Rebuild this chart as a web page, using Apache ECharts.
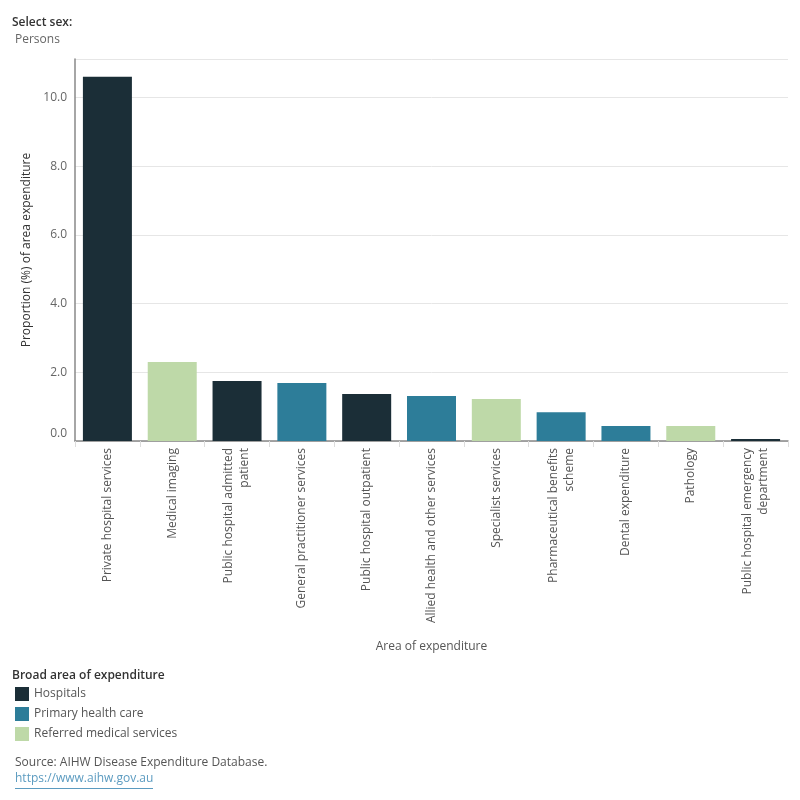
<!DOCTYPE html>
<html>
<head>
<meta charset="utf-8">
<script src="https://cdn.jsdelivr.net/npm/echarts@6/dist/echarts.min.js"></script>
<style>
  html, body { margin: 0; padding: 0; background: #fff; }
  #main { width: 800px; height: 800px; }
</style>
</head>
<body>
<div id="main"></div>
<script>
// categories, values and broad area for each bar
var categories = [
    'Private hospital services',
    'Medical imaging',
    'Public hospital admitted\npatient',
    'General practitioner services',
    'Public hospital outpatient',
    'Allied health and other services',
    'Specialist services',
    'Pharmaceutical benefits\nscheme',
    'Dental expenditure',
    'Pathology',
    'Public hospital emergency\ndepartment'
];
var values = [10.6, 2.3, 1.75, 1.69, 1.37, 1.31, 1.22, 0.84, 0.44, 0.44, 0.06];
var groups = [
    'Hospitals', 'Referred medical services', 'Hospitals', 'Primary health care',
    'Hospitals', 'Primary health care', 'Referred medical services',
    'Primary health care', 'Primary health care', 'Referred medical services', 'Hospitals'
];
var groupNames = ['Hospitals', 'Primary health care', 'Referred medical services'];
var groupColors = ['#1b2e37', '#2d7d99', '#bed9a8'];

var font = '"Open Sans", "Noto Sans", sans-serif';

function buildSeries() {
    return groupNames.map(function (g, gi) {
        return {
            name: g,
            type: 'bar',
            barWidth: 49,
            barGap: '-100%',
            itemStyle: { color: groupColors[gi] },
            data: values.map(function (v, i) { return groups[i] === g ? v : '-'; })
        };
    });
}

var myChart = echarts.init(document.getElementById('main'));
var option = {
    animation: false,
    textStyle: { fontFamily: font },
    grid: { left: 75, right: 12, top: 59, bottom: 359, containLabel: false },
    graphic: [
        { type: 'text', left: 12, top: 17, style: { text: 'Select sex:', font: '600 12px ' + font, fill: '#333' } },
        { type: 'text', left: 15, top: 34, style: { text: 'Persons', font: '12px ' + font, fill: '#666' } },
        { type: 'text', left: 12, top: 670, style: { text: 'Broad area of expenditure', font: '600 12px ' + font, fill: '#333' } },
        { type: 'text', left: 15, top: 757, style: { text: 'Source: AIHW Disease Expenditure Database.', font: '12px ' + font, fill: '#555' } },
        { type: 'text', left: 15, top: 773, style: { text: 'https://www.aihw.gov.au', font: '12px ' + font, fill: '#5b9bc0' } },
        { type: 'rect', left: 15, top: 788, shape: { width: 138, height: 1 }, style: { fill: '#5b9bc0' } }
    ],
    legend: {
        orient: 'vertical',
        left: 15,
        top: 687,
        padding: 0,
        itemWidth: 14,
        itemHeight: 14,
        itemGap: 6,
        icon: 'rect',
        textStyle: { fontSize: 12, color: '#555', fontFamily: font },
        data: groupNames
    },
    xAxis: {
        type: 'category',
        data: categories,
        name: 'Area of expenditure',
        nameLocation: 'middle',
        nameGap: 200,
        nameTextStyle: { fontSize: 12, color: '#555' },
        axisLine: { lineStyle: { color: '#888', width: 1.5 } },
        axisTick: { show: true, length: 6, lineStyle: { color: '#ddd' } },
        axisLabel: {
            rotate: 90,
            interval: 0,
            margin: 7,
            fontSize: 12,
            color: '#555',
            lineHeight: 16
        }
    },
    yAxis: {
        type: 'value',
        min: 0,
        max: 11.12,
        interval: 2,
        name: 'Proportion (%) of area expenditure',
        nameLocation: 'middle',
        nameGap: 41,
        nameTextStyle: { fontSize: 12, color: '#333' },
        axisLine: { show: true, lineStyle: { color: '#888', width: 1.5 } },
        axisTick: { show: false },
        splitLine: { lineStyle: { color: '#e6e6e6' } },
        axisLabel: {
            fontSize: 12,
            color: '#666',
            margin: 8,
            showMaxLabel: false,
            formatter: function (v) {
                return v === 0 ? '{z|0.0}' : v.toFixed(1);
            },
            rich: {
                z: { fontSize: 12, color: '#666', padding: [0, 0, 15, 0] }
            }
        }
    },
    series: buildSeries()
};
myChart.setOption(option);
</script>
</body>
</html>
